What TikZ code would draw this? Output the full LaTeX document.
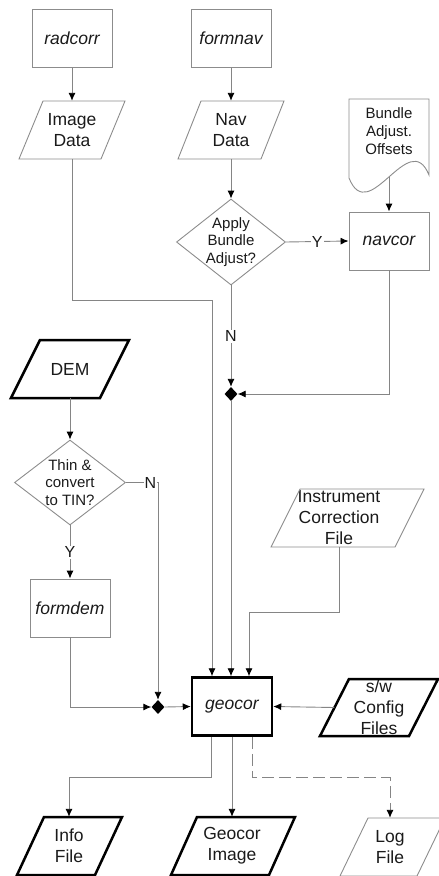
\documentclass[tikz,border=0pt]{standalone}
\usepackage{fontspec}
\setmainfont{Liberation Sans}
\usetikzlibrary{arrows.meta,shapes.geometric,calc}

\definecolor{linegray}{HTML}{858585}
\definecolor{edgegray}{HTML}{8C8C8C}
\definecolor{inkdark}{HTML}{1A1A1A}

% parallelogram outline: style, centre x, centre y, full width, height, slant
\newcommand\parallelo[6]{%
  \draw[#1] ({#2-#4/2+#6},{#3-#5/2}) -- ({#2+#4/2},{#3-#5/2})
    -- ({#2+#4/2-#6},{#3+#5/2}) -- ({#2-#4/2},{#3+#5/2}) -- cycle;}

\tikzset{
  base/.style={font=\fontsize{17.5}{21}\selectfont, text=inkdark, align=center, inner sep=0pt},
  procbox/.style={base, draw=edgegray, line width=0.9pt, minimum width=80pt,
    minimum height=58pt, font=\fontsize{17.5}{21}\selectfont\itshape},
  mainbox/.style={procbox, draw=black, line width=2.5pt},
  datatext/.style={base, minimum height=58pt},
  thinpara/.style={draw=edgegray, line width=0.9pt},
  thickpara/.style={draw=black, line width=2.5pt},
  decision/.style={diamond, draw=edgegray, line width=0.9pt, inner sep=0pt},
  dtext/.style={base, font=\fontsize{15}{17.8}\selectfont},
  doctext/.style={base, font=\fontsize{15}{18}\selectfont},
  junction/.style={diamond, fill=black, inner sep=0pt, minimum width=13pt, minimum height=14pt},
  plain/.style={draw=linegray, line width=0.9pt},
  flow/.style={plain, -{Latex[color=black, length=8pt, width=7pt]}},
  dashflow/.style={flow, dash pattern=on 12pt off 5pt},
  yn/.style={base, font=\fontsize{16}{19}\selectfont, fill=white, inner sep=1pt},
}

\begin{document}
\begin{tikzpicture}[x=1pt, y=-1pt]
\useasboundingbox (0,0) rectangle (439,876);

% ---- image branch
\node[procbox] (radcorr) at (72,38.5) {radcorr};
\node[datatext, minimum width=82pt] (imgdata) at (72,130) {Image\\Data};
\parallelo{thinpara}{72}{130}{106}{58}{24}

% ---- navigation branch
\node[procbox] (formnav) at (231,38.5) {formnav};
\node[datatext, minimum width=82pt] (navdata) at (231,130) {Nav\\Data};
\parallelo{thinpara}{231}{130}{106}{58}{23}
\node[decision, minimum width=109pt, minimum height=86pt] (apply) at (231,242) {};
\node[dtext] (applytxt) at (apply) {Apply\\Bundle\\Adjust?};

% bundle adjustment offsets document
\draw[thinpara] (349,99) -- (429,99) -- (429,175)
  .. controls (409,126) and (369,228) .. (349,178) -- cycle;
\node[doctext] (bao) at (389,131) {Bundle\\Adjust.\\Offsets};
\coordinate (baoout) at (389,177);
\node[procbox] (navcor) at (389,241) {navcor};
\node[junction] (j1) at (231,394) {};

% ---- elevation branch
\node[datatext, minimum width=89pt] (dem) at (70,369) {DEM};
\parallelo{thickpara}{70}{369}{118}{58}{29}
\node[decision, minimum width=111pt, minimum height=85pt] (thin) at (70,482.5) {};
\node[dtext] (thintxt) at (thin) {Thin \&\\convert\\to TIN?};
\node[procbox] (formdem) at (70,608) {formdem};
\node[junction] (j2) at (158,707) {};

% ---- instrument correction and configuration inputs
\node[base, minimum height=58pt] (inst) at (339,518) {Instrument\\Correction\\File};
\parallelo{thinpara}{347.5}{518}{153}{58}{29}
\node[datatext, minimum width=89pt] (swcfg) at (379,707.5) {s/w\\Config\\Files};
\parallelo{thickpara}{379}{707.5}{118}{57}{29}

% ---- central process
\node[mainbox] (geocor) at (232,706.5) {geocor};

% ---- outputs
\node[datatext, minimum width=78pt] (info) at (69,846) {Info\\File};
\parallelo{thickpara}{69.5}{846}{105}{58}{27}
\node[datatext, minimum width=98pt] (gimg) at (232,846) {Geocor\\Image};
\parallelo{thickpara}{233}{846}{124}{58}{26}
\node[datatext, minimum width=77pt] (logf) at (390,847) {Log\\File};
\parallelo{thinpara}{392.5}{847}{105}{58}{28}

% ---- connectors
\draw[flow] (radcorr) -- (imgdata);
\draw[flow] (imgdata.south) -- ++(0,141) -| ([xshift=-20pt]geocor.north);
\draw[flow] (formnav) -- (navdata);
\draw[flow] (navdata.south) -- (apply.north);
\draw[flow] (apply.east) -- node[yn]{Y} (navcor.west);
\draw[flow] (baoout) -- (navcor.north);
\draw[flow] (apply.south) -- node[yn]{N} (j1.north);
\draw[flow] (navcor.south) |- (j1.east);
\draw[flow] (j1.south) -- (j1.south |- geocor.north);
\draw[flow] (inst.south) -- ++(0,65) -| ([xshift=17pt]geocor.north);

\draw[flow] (dem.south) -- (thin.north);
\draw[flow] (thin.east) -| node[yn, pos=0.38]{N} (j2.north);
\draw[flow] (thin.south) -- node[yn]{Y} (formdem.north);
\draw[flow] (formdem.south) |- (j2.west);
\draw[flow] (j2.east) -- (geocor.west);
\draw[flow] (swcfg.west) -- (geocor.east);

\draw[flow] ([xshift=-21pt]geocor.south) -- ++(0,41) -| (info.north);
\draw[flow] (geocor.south) -- (gimg.north);
\draw[dashflow] ([xshift=20pt]geocor.south) -- ++(0,41) -| (logf.north);
\end{tikzpicture}
\end{document}
